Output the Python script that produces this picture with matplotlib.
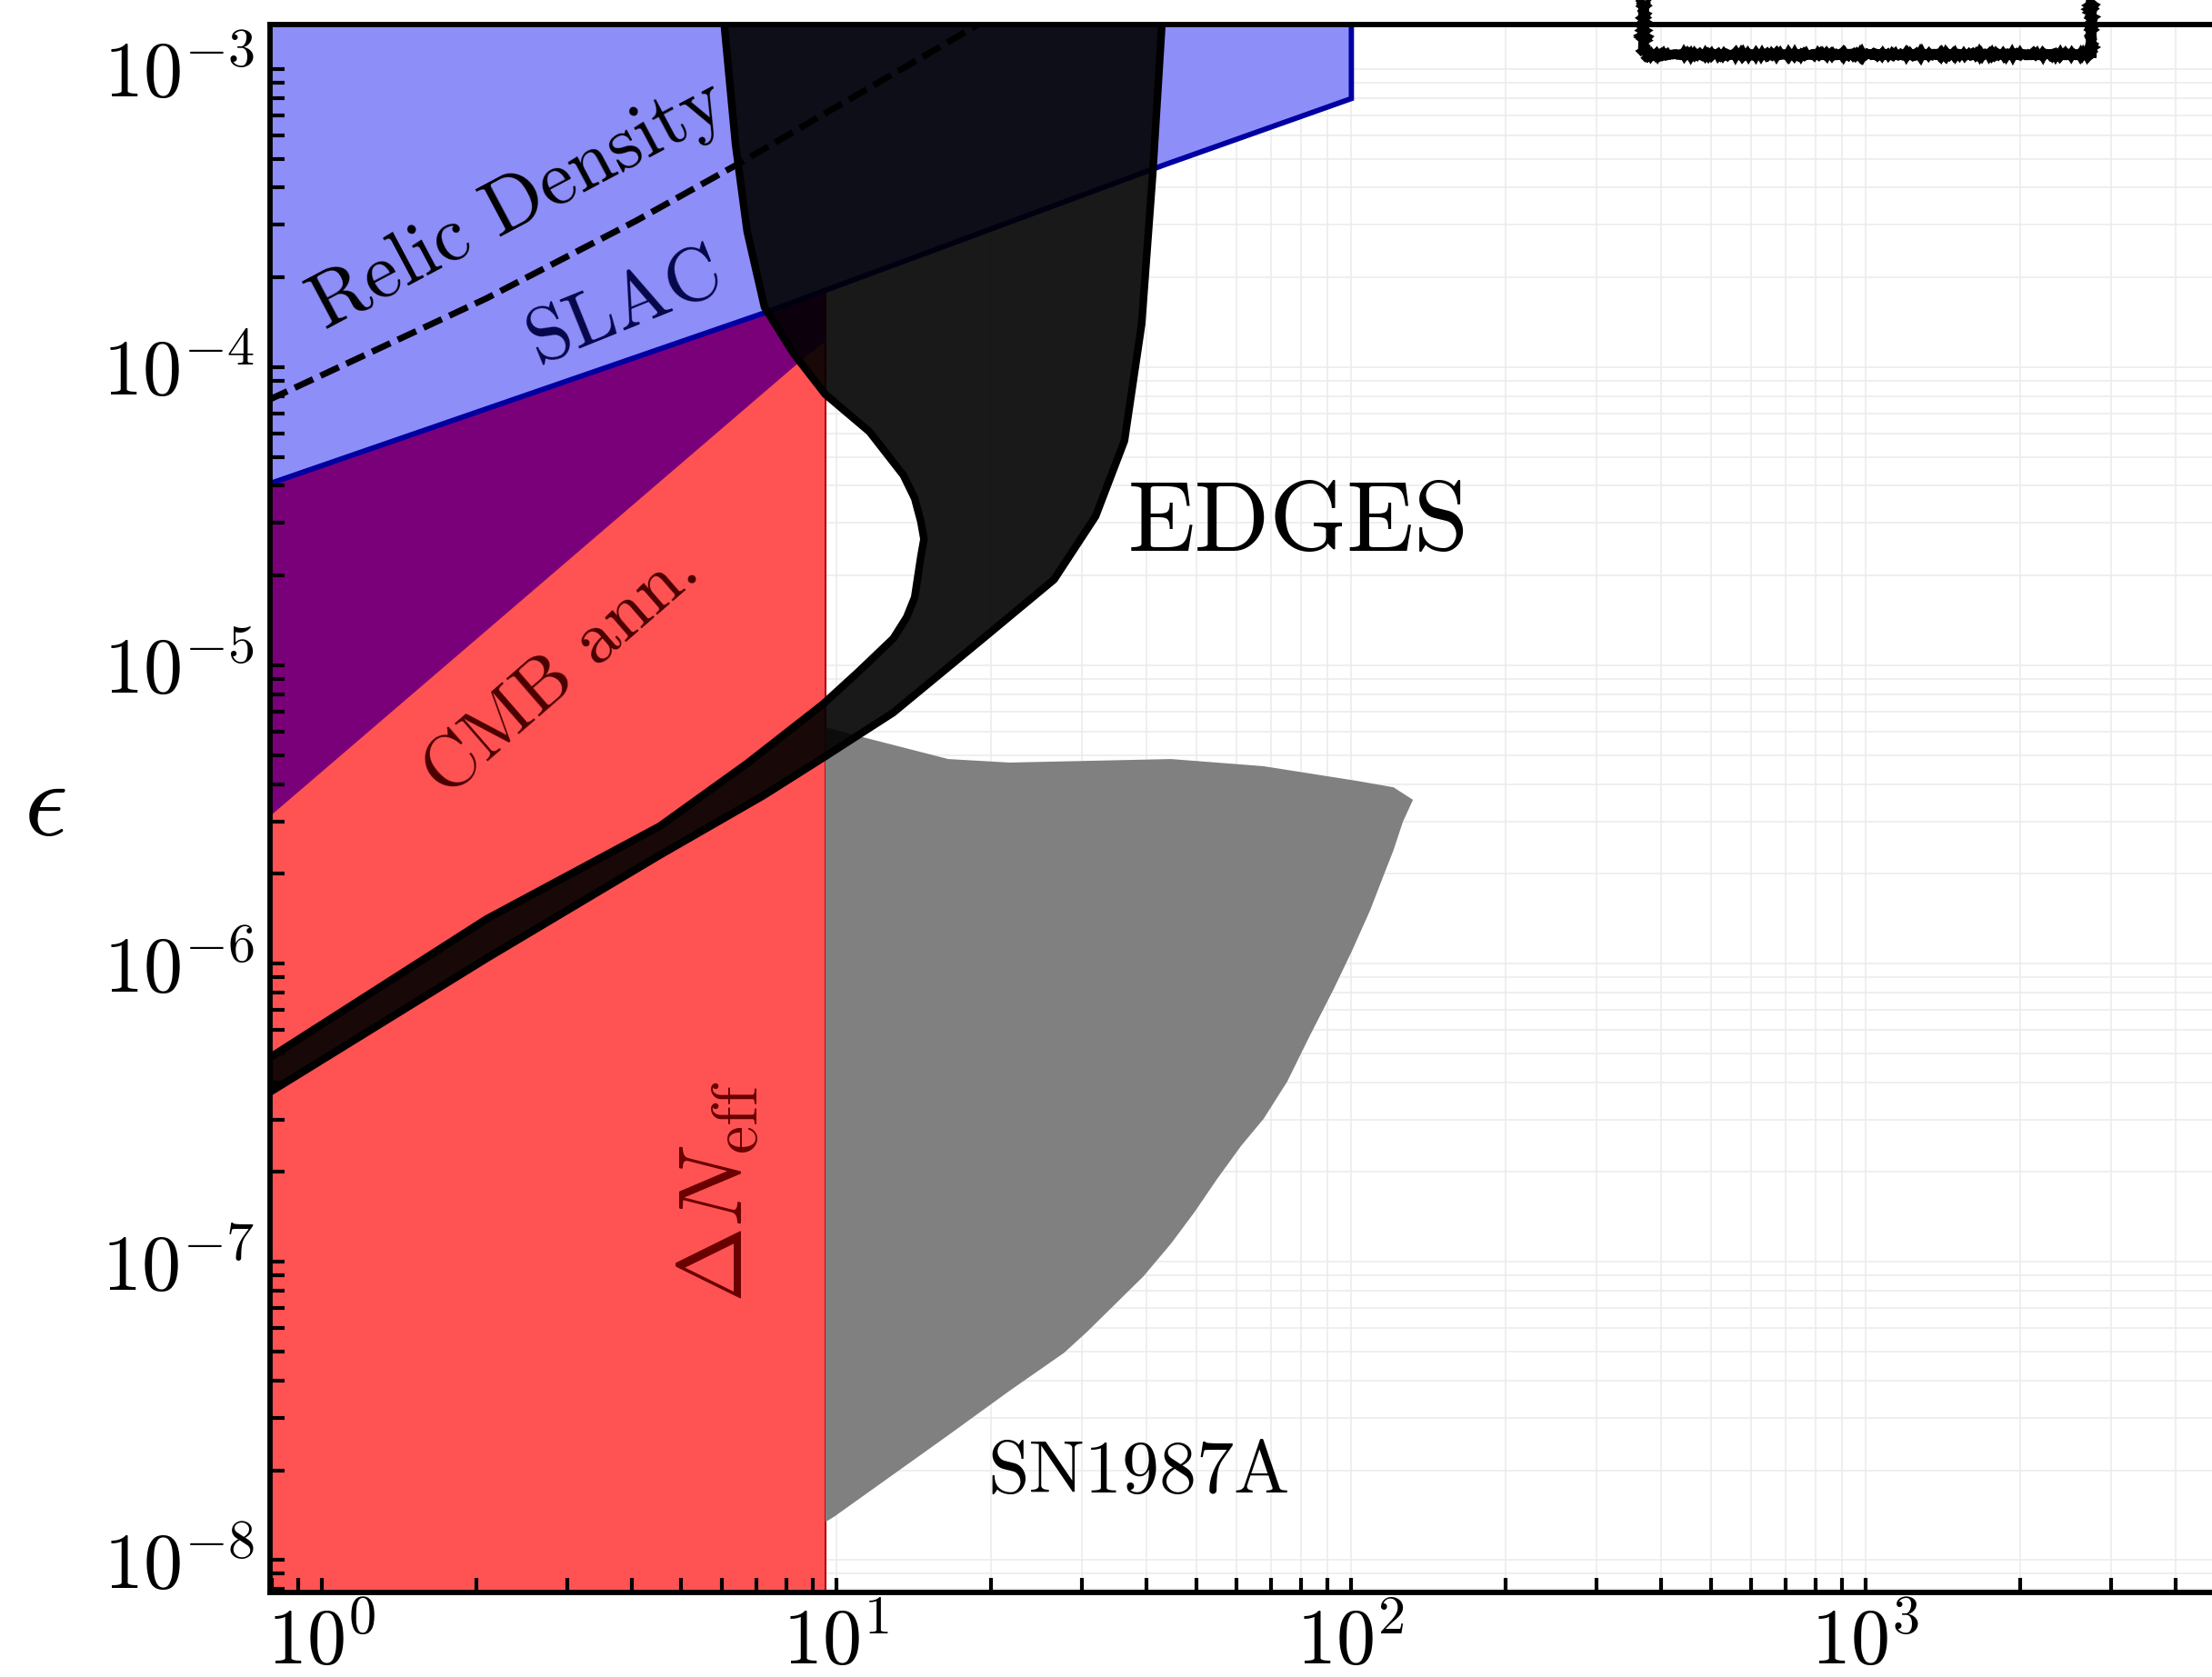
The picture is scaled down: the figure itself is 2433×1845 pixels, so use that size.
import numpy as np
import matplotlib
matplotlib.use("Agg")
import matplotlib.pyplot as plt
from matplotlib.patches import Rectangle
from matplotlib.ticker import LogLocator, NullFormatter

plt.rcParams["mathtext.fontset"] = "cm"
plt.rcParams["font.family"] = "serif"
plt.rcParams["font.serif"] = ["cmr10", "DejaVu Serif"]
plt.rcParams["axes.formatter.use_mathtext"] = True

# --- AXIS RANGE ---------------------------------------------------------------
M_LIM   = (10**-0.101, 1e4)      # dark photon mass [MeV]
EPS_LIM = (7.8e-9, 1.41e-3)      # kinetic mixing

x_ticks = [1e0, 1e1, 1e2, 1e3]
x_labels = [r"$10^{0}$", r"$10^{1}$", r"$10^{2}$", r"$10^{3}$"]
y_ticks = [1e-8, 1e-7, 1e-6, 1e-5, 1e-4, 1e-3]
y_labels = [r"$10^{-8}$", r"$10^{-7}$", r"$10^{-6}$", r"$10^{-5}$", r"$10^{-4}$", r"$10^{-3}$"]

# --- CONSTRAINTS --------------------------------------------------------------
# SLAC beam dump: lower edge, closed at m ~ 100 MeV
slac_m   = [0.79, 7.25, 43.3, 100.2]
slac_eps = [4.06e-5, 1.52e-4, 4.76e-4, 7.95e-4]

# relic density line
relic_m   = [0.79, 2.09, 4.09, 6.39, 18.5, 21.7]
relic_eps = [7.77e-5, 1.70e-4, 3.10e-4, 4.76e-4, 1.38e-3, 1.71e-3]

# CMB annihilation: excluded above this line
cmb_m   = [0.79, 8.48, 9.52]
cmb_eps = [3.10e-6, 1.04e-4, 1.22e-4]

# Delta N_eff: excluded below this mass
neff_m_max = 9.52

# EDGES preferred band (closed outline)
edges_m = [6.04, 6.37, 6.71, 7.25, 8.26, 9.52, 11.6, 13.5, 14.2, 14.6, 14.8,
           14.6, 14.2, 13.7, 12.9, 11.0, 9.41, 6.71, 4.54, 2.09, 0.79, 0.655,
           0.655, 0.79, 2.09, 4.54, 7.22, 9.52, 12.9, 19.5, 26.5, 31.9, 36.3,
           39.2, 41.2, 42.9, 43.0]
edges_eps = [1.48e-3, 5.58e-4, 2.85e-4, 1.59e-4, 1.11e-4, 8.10e-5, 6.07e-5,
             4.34e-5, 3.63e-5, 3.03e-5, 2.65e-5, 2.32e-5, 1.69e-5, 1.45e-5,
             1.23e-5, 9.46e-6, 7.40e-6, 4.69e-6, 2.89e-6, 1.41e-6, 4.82e-7,
             3.85e-7,
             2.99e-7, 3.69e-7, 1.04e-6, 2.31e-6, 3.66e-6, 4.95e-6, 6.94e-6,
             1.25e-5, 1.94e-5, 3.16e-5, 5.66e-5, 1.39e-4, 4.46e-4, 1.39e-3,
             1.53e-3]

# SN1987A cooling (closed outline)
sn_m = [9.52, 11.1, 16.5, 21.7, 44.7, 67.6, 102.5, 121, 132, 126.2, 121,
        116.2, 109, 100.4, 92.6, 83.3, 75.2, 67.7, 61.1, 55.0, 49.7, 44.7,
        39.5, 34.8, 30.7, 27.7, 21.6, 16.6, 9.92, 9.52]
sn_eps = [6.21e-6, 5.78e-6, 4.85e-6, 4.72e-6, 4.85e-6, 4.59e-6, 4.10e-6,
          3.90e-6, 3.54e-6, 2.99e-6, 2.40e-6, 2.01e-6, 1.51e-6, 1.10e-6,
          8.22e-7, 5.75e-7, 4.02e-7, 3.02e-7, 2.44e-7, 1.90e-7, 1.47e-7,
          1.15e-7, 8.93e-8, 7.20e-8, 5.82e-8, 4.95e-8, 3.67e-8, 2.64e-8,
          1.40e-8, 1.34e-8]

# --- FIGURE -------------------------------------------------------------------
fig = plt.figure(figsize=(24.33, 18.45), dpi=100)
ax = fig.add_axes([0.12195, 0.05057, 1.0760 - 0.12195, 0.98547 - 0.05057])
ax.set_xscale("log")
ax.set_yscale("log")
ax.set_xlim(*M_LIM)
ax.set_ylim(*EPS_LIM)

ax.xaxis.set_minor_locator(LogLocator(base=10, subs=np.arange(2, 10), numticks=20))
ax.yaxis.set_minor_locator(LogLocator(base=10, subs=np.arange(2, 10), numticks=20))
ax.set_xticks(x_ticks, x_labels)
ax.set_yticks(y_ticks, y_labels)
ax.xaxis.set_minor_formatter(NullFormatter())
ax.yaxis.set_minor_formatter(NullFormatter())

# faint grid behind everything, ticks stay on top
grid_kw = dict(color="#ececec", lw=1.2, zorder=0)
xg = np.concatenate([x_ticks, [1e4], ax.xaxis.get_minorticklocs()])
yg = np.concatenate([y_ticks, ax.yaxis.get_minorticklocs()])
ax.vlines(xg[(xg > M_LIM[0]) & (xg < M_LIM[1])], *EPS_LIM, **grid_kw)
ax.hlines(yg[(yg > EPS_LIM[0]) & (yg < EPS_LIM[1])], *M_LIM, **grid_kw)
ax.set_xlim(*M_LIM)
ax.set_ylim(*EPS_LIM)

# Delta N_eff
ax.axvspan(0.5, neff_m_max, color="#ff5353", lw=0, zorder=1)
ax.axvline(neff_m_max, color="#b00000", lw=1.5, zorder=1.2)

# CMB annihilation
ax.fill(cmb_m + [cmb_m[-1], cmb_m[0]], cmb_eps + [1e-2, 1e-2],
        color="#7a0079", lw=0, zorder=2)

# SLAC
ax.fill(slac_m + [slac_m[-1], slac_m[0]], slac_eps + [1e-2, 1e-2],
        color="#8e8ef9", lw=0, zorder=3)
ax.plot(slac_m + [slac_m[-1]], slac_eps + [1e-2], color="#0000a0", lw=4.2,
        zorder=3.1, solid_capstyle="butt", solid_joinstyle="miter")

# SN1987A
ax.fill(sn_m, sn_eps, color="#808080", lw=0, zorder=2)

# EDGES
ax.fill(edges_m, edges_eps, facecolor=(0, 0, 0, 0.9), edgecolor="black",
        lw=6, joinstyle="round", zorder=4)

# relic density
ax.plot(relic_m, relic_eps, color="black", lw=5, ls=(0, (3.2, 1.3)), zorder=5)

# --- LABELS -------------------------------------------------------------------
txt = dict(family="cmr10", ha="center", va="center", rotation_mode="anchor", zorder=6)
ax.text(2.41, 3.48e-4, "Relic Density", rotation=28, fontsize=62, color="black", **txt)
ax.text(3.89, 1.59e-4, "SLAC", rotation=22, fontsize=61, color="#06064a", **txt)
ax.text(2.93, 9.46e-6, "CMB ann.", rotation=41, fontsize=59, color="#4a0000", **txt)
ax.text(5.89, 1.71e-7, r"$\Delta N_{\rm eff}$", rotation=90, fontsize=72,
        color="#6a0000", ha="center", va="center", rotation_mode="anchor", zorder=6)
ax.text(36.9, 2.44e-5, "EDGES", fontsize=78, family="cmr10", ha="left",
        va="baseline", zorder=6)
ax.text(19.7, 1.68e-8, "SN1987A", fontsize=59, family="cmr10", ha="left",
        va="baseline", zorder=6)

ax.set_ylabel(r"$\epsilon$", rotation=0, fontsize=85, va="center", ha="center")
ax.yaxis.set_label_coords(-0.1064, 0.5)

# --- STYLE --------------------------------------------------------------------
for side in ["left", "bottom", "top", "right"]:
    ax.spines[side].set_linewidth(4.2)
    ax.spines[side].set_zorder(10)
ax.tick_params(which="both", direction="in", length=11.5, width=3,
               top=False, right=False, zorder=10)
ax.tick_params(axis="both", which="major", labelsize=62, pad=12)
ax.xaxis.set_zorder(10)
ax.yaxis.set_zorder(10)

# frame of the panel above, partly in view
box = Rectangle((0.7431, 0.9675), 0.2022, 0.06, transform=fig.transFigure,
                fill=False, lw=7.5, ec="black", clip_on=False)
box.set_sketch_params(scale=1.0, length=2, randomness=2)
fig.add_artist(box)

fig.savefig("out.png", dpi=100)
